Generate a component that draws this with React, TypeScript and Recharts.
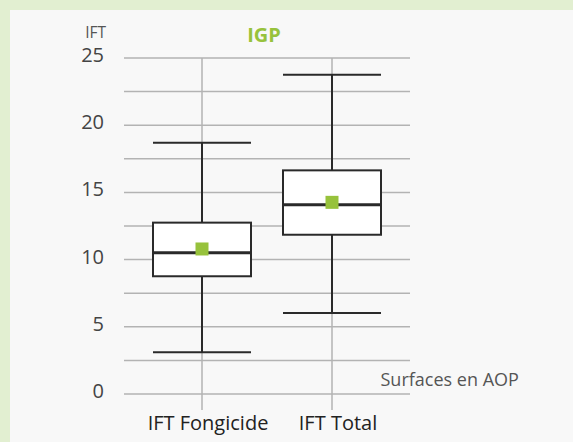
import React from "react";
import { ComposedChart, Bar, XAxis, YAxis, CartesianGrid } from "recharts";

const categories = ["IFT Fongicide", "IFT Total"];
const minValues = [3.1, 6.03];
const q1Values = [8.76, 11.85];
const medianValues = [10.51, 14.08];
const q3Values = [12.75, 16.64];
const maxValues = [18.7, 23.76];
const meanValues = [10.79, 14.26];
const yTicks = [0, 2.5, 5, 7.5, 10, 12.5, 15, 17.5, 20, 22.5, 25];

const data = categories.map((name, i) => ({
  name,
  min: minValues[i],
  q1: q1Values[i],
  median: medianValues[i],
  q3: q3Values[i],
  max: maxValues[i],
  mean: meanValues[i],
}));

const FONT = "'Open Sans', sans-serif";
const GRID = "#b3b3b3";
const INK = "#2a2a2a";
const GREEN = "#97c23c";

// draws a whole box plot from the [min, max] bar geometry
function BoxShape(props: any) {
  const { x, y, width, height, payload } = props;
  if (!payload) return null;
  const { min, q1, median, q3, max, mean } = payload;
  const unit = height / (max - min);
  const py = (v: number) => y + (max - v) * unit;
  const cx = x + width / 2;
  const m = 13;
  return (
    <g>
      <line x1={cx} x2={cx} y1={py(max)} y2={py(min)} stroke={INK} strokeWidth={2} />
      <line x1={x} x2={x + width} y1={py(max)} y2={py(max)} stroke={INK} strokeWidth={2} />
      <line x1={x} x2={x + width} y1={py(min)} y2={py(min)} stroke={INK} strokeWidth={2} />
      <rect
        x={x}
        y={py(q3)}
        width={width}
        height={py(q1) - py(q3)}
        fill="#fff"
        stroke={INK}
        strokeWidth={2}
      />
      <line x1={x} x2={x + width} y1={py(median)} y2={py(median)} stroke={INK} strokeWidth={3} />
      <rect x={cx - m / 2} y={py(mean) - m / 2} width={m} height={m} fill={GREEN} />
    </g>
  );
}

function YTick(props: any) {
  const { x, y, payload } = props;
  if (payload.value % 5 !== 0) return null;
  return (
    <text x={x} y={y + 4} textAnchor="end" fontSize={20} fill="#444" fontFamily={FONT}>
      {payload.value}
    </text>
  );
}

function XTick(props: any) {
  const { x, y, payload } = props;
  return (
    <text x={x + 6} y={y + 19.5} textAnchor="middle" fontSize={20} fill="#222" fontFamily={FONT}>
      {payload.value}
    </text>
  );
}

export default function App() {
  return (
    <div
      style={{
        position: "absolute",
        left: 0,
        top: 0,
        width: 573,
        height: 442,
        background: "#e2efd1",
        fontFamily: FONT,
      }}
    >
      <div
        style={{
          position: "absolute",
          left: 10,
          top: 10,
          width: 563,
          height: 432,
          background: "#f8f8f8",
        }}
      >
        <ComposedChart
          width={563}
          height={432}
          data={data}
          margin={{ top: 48, right: 163, bottom: 0, left: 0 }}
        >
          <CartesianGrid stroke={GRID} strokeWidth={1.5} horizontal vertical syncWithTicks />
          <XAxis
            dataKey="name"
            type="category"
            height={48}
            padding={{ left: 13, right: 13 }}
            axisLine={false}
            tickLine={{ stroke: GRID, strokeWidth: 1.5 }}
            tickSize={16}
            tickMargin={0}
            tick={<XTick />}
            interval={0}
          />
          <XAxis
            xAxisId="top"
            dataKey="name"
            type="category"
            orientation="top"
            height={0}
            padding={{ left: 13, right: 13 }}
            axisLine={false}
            tickLine={{ stroke: GRID, strokeWidth: 1.5 }}
            tickSize={16}
            tick={() => <g />}
            interval={0}
          />
          <YAxis
            type="number"
            domain={[0, 25]}
            ticks={yTicks}
            width={114}
            axisLine={false}
            tickLine={false}
            tickSize={0}
            tickMargin={20}
            tick={<YTick />}
            interval={0}
          />
          <Bar
            dataKey={(d: any) => [d.min, d.max]}
            barSize={98}
            shape={<BoxShape />}
            isAnimationActive={false}
          />
        </ComposedChart>
      </div>
      <svg
        width={573}
        height={442}
        style={{ position: "absolute", left: 0, top: 0, pointerEvents: "none" }}
      >
        <text x={106} y={37.5} textAnchor="end" fontSize={15.5} fill="#555" fontFamily={FONT}>
          IFT
        </text>
        <text
          x={264}
          y={42}
          textAnchor="middle"
          fontSize={20}
          fontWeight="bold"
          fill={GREEN}
          fontFamily={FONT}
        >
          IGP
        </text>
        <text x={380.5} y={386} fontSize={18} fill="#555" fontFamily={FONT}>
          Surfaces en AOP
        </text>
      </svg>
    </div>
  );
}
